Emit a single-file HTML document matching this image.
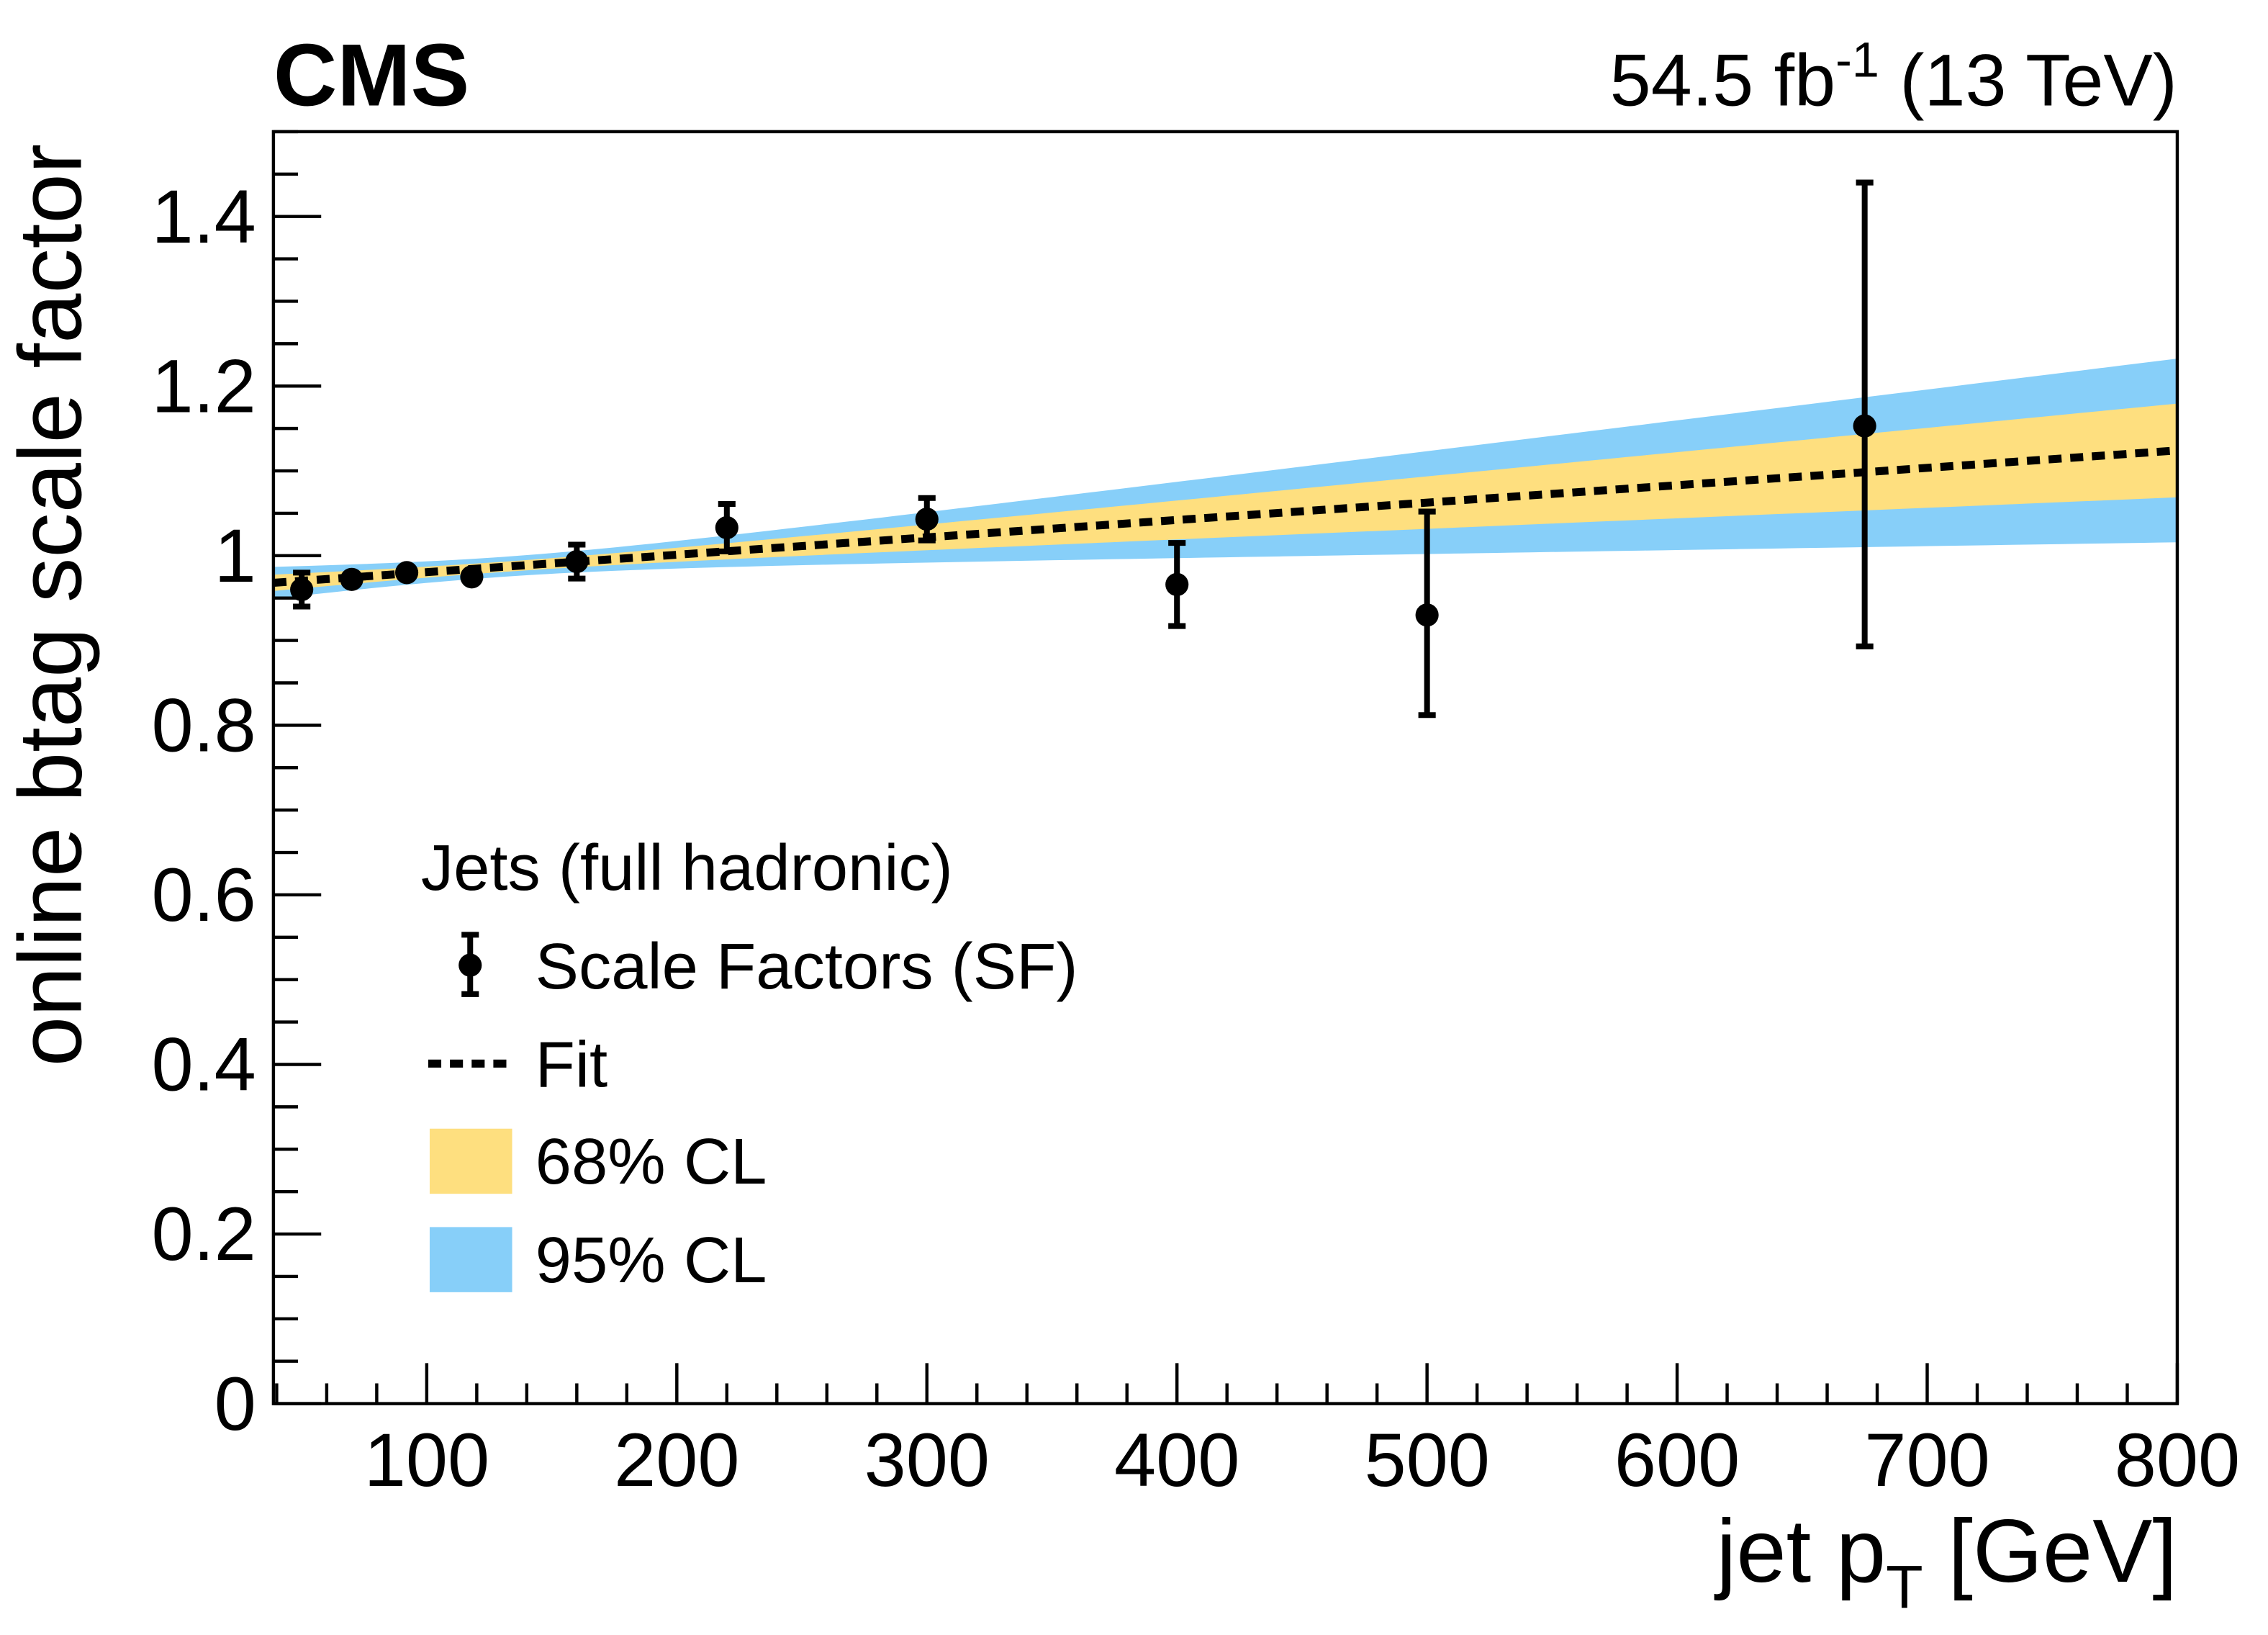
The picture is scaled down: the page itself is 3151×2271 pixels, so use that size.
<!DOCTYPE html>
<html><head><meta charset="utf-8"><style>
html,body{margin:0;padding:0;background:#fff}
svg{display:block}
text{font-family:"Liberation Sans",sans-serif;fill:#000}
</style></head><body>
<svg id="chart" width="3151" height="2271" viewBox="0 0 1567.7 1129.9" xmlns="http://www.w3.org/2000/svg">
<g id="bands"></g>
<g id="fitg"></g>
<g id="pts"></g>
<rect x="189" y="91" width="1316" height="879" fill="none" stroke="#000" stroke-width="2.2"/>
<g id="axes"></g>
<text x="189" y="73" font-size="61" font-weight="bold">CMS</text>
<text x="1505" y="73" font-size="51" text-anchor="end">54.5 fb<tspan dy="-20" font-size="34">-1</tspan><tspan dy="20"> (13 TeV)</tspan></text>
<text transform="translate(56,737) rotate(-90)" font-size="62">online btag scale factor</text>
<text x="1505" y="1093" font-size="62" text-anchor="end">jet p<tspan dy="18" font-size="42">T</tspan><tspan dy="-18"> [GeV]</tspan></text>
<g>
<text x="291" y="615" font-size="45">Jets (full hadronic)</text>
<line x1="325" y1="645" x2="325" y2="688" stroke="#000" stroke-width="4"/>
<line x1="319" y1="646" x2="331" y2="646" stroke="#000" stroke-width="4"/>
<line x1="319" y1="687" x2="331" y2="687" stroke="#000" stroke-width="4"/>
<circle cx="325" cy="667" r="8" fill="#000"/>
<text x="370" y="683" font-size="45">Scale Factors (SF)</text>
<line x1="296" y1="735" x2="354" y2="735" stroke="#000" stroke-width="5.5" stroke-dasharray="9,6"/>
<text x="370" y="751" font-size="45">Fit</text>
<rect x="297" y="780" width="57" height="45" fill="#fedf7f"/>
<text x="370" y="818" font-size="45">68% CL</text>
<rect x="297" y="848" width="57" height="45" fill="#87cff9"/>
<text x="370" y="886" font-size="45">95% CL</text>
</g>
</svg>
<script>
const ptX=[50,70,92,118,160,220,300,400,500,675];
const ptY=[0.960,0.972,0.980,0.975,0.993,1.033,1.043,0.966,0.930,1.153];
const ptErrUp=[0.020,0.005,0.005,0.005,0.020,0.028,0.025,0.049,0.122,0.287];
const ptErrDown=[0.020,0.005,0.005,0.005,0.020,0.028,0.025,0.049,0.118,0.260];
const fitParams=[0.968,0.000205];        // intercept at xMin, slope
const bandParams=[0.006,0.000082,130];   // s0, s1, x0 for 68% CL
const xTicks=[100,200,300,400,500,600,700,800];
const yTicks=[0,0.2,0.4,0.6,0.8,1,1.2,1.4];
const yTickLabels=["0","0.2","0.4","0.6","0.8","1","1.2","1.4"];
const xMin=38.7,xMax=800,yMin=0,yMax=1.5;
const L=189,R=1505,T=91,B=970;
const sx=v=>L+(v-xMin)/(xMax-xMin)*(R-L);
const sy=v=>B-(v-yMin)/(yMax-yMin)*(B-T);
const NS="http://www.w3.org/2000/svg";
function mk(tag,attrs,parent){const e=document.createElementNS(NS,tag);for(const k in attrs)e.setAttribute(k,attrs[k]);parent.appendChild(e);return e;}
const fit=x=>fitParams[0]+fitParams[1]*(x-xMin);
const sig=x=>Math.sqrt(bandParams[0]**2+(bandParams[1]*(x-bandParams[2]))**2);
function band(k){let up=[],dn=[];for(let i=0;i<=100;i++){const x=xMin+(xMax-xMin)*i/100;up.push(sx(x)+","+sy(fit(x)+k*sig(x)));dn.unshift(sx(x)+","+sy(fit(x)-k*sig(x)));}return up.concat(dn).join(" ");}
const bg=document.getElementById('bands');
const b95=mk('polygon',{points:band(1.96),fill:'#87cff9'},bg);


const b68=mk('polygon',{points:band(1),fill:'#fedf7f'},bg);


const fl=mk('line',{x1:sx(xMin),y1:sy(fit(xMin)),x2:sx(xMax),y2:sy(fit(xMax)),stroke:'#000','stroke-width':5.5,'stroke-dasharray':'9,6'},document.getElementById('fitg'));


const pg=document.getElementById('pts');
ptX.forEach((x,i)=>{
 const g=mk('g',{},pg);
 
 
 const X=sx(x),y1=sy(ptY[i]+ptErrUp[i]),y2=sy(ptY[i]-ptErrDown[i]);
 mk('line',{x1:X,y1:y1,x2:X,y2:y2,stroke:'#000','stroke-width':4},g);
 mk('line',{x1:X-6,y1:y1,x2:X+6,y2:y1,stroke:'#000','stroke-width':4},g);
 mk('line',{x1:X-6,y1:y2,x2:X+6,y2:y2,stroke:'#000','stroke-width':4},g);
 mk('circle',{cx:X,cy:sy(ptY[i]),r:8,fill:'#000'},g);
});
const ax=document.getElementById('axes');
for(let v=40;v<=800;v+=20){const X=sx(v);const maj=v%100===0;
 const t=mk('line',{x1:X,y1:B,x2:X,y2:B-(maj?28:14),stroke:'#000','stroke-width':2.2},ax);
 
 }
xTicks.forEach(v=>{const t=mk('text',{x:sx(v),y:1027,'font-size':52,'text-anchor':'middle'},ax);t.textContent=v;
 
 });
for(let i=0;i<=30;i++){const v=i*0.05;const Y=sy(v);const maj=i%4===0;
 const t=mk('line',{x1:L,y1:Y,x2:L+(maj?33:17),y2:Y,stroke:'#000','stroke-width':2.2},ax);
 
 }
yTicks.forEach((v,i)=>{const t=mk('text',{x:177,y:sy(v)+18,'font-size':52,'text-anchor':'end'},ax);t.textContent=yTickLabels[i];
 
 });
</script>
</body></html>
